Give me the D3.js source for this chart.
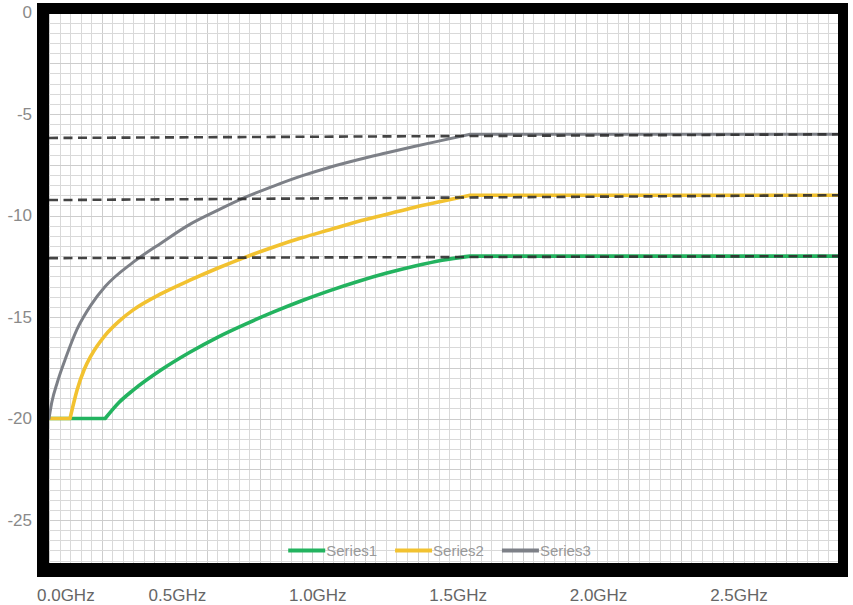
<!DOCTYPE html>
<html>
<head>
<meta charset="utf-8">
<script src="https://cdn.jsdelivr.net/npm/d3@7"></script>
<style>
  html, body { margin: 0; padding: 0; background: #ffffff; }
  svg { display: block; }
  text { font-family: "Liberation Sans", Arial, sans-serif; }
</style>
</head>
<body>
<svg id="chart" width="853" height="605"></svg>
<script>
// ---------- DATA ----------
const seriesNames = ["Series1", "Series2", "Series3"];
const seriesColors = ["#23b35f", "#f2c230", "#7d8087"];

// [GHz, dB]
const series1 = [[0,-20],[0.2,-20],[0.25,-19.2],[0.3,-18.6],[0.4,-17.6],[0.5,-16.75],[0.6,-16.0],[0.7,-15.35],[0.8,-14.75],[0.9,-14.2],[1.0,-13.7],[1.1,-13.25],[1.2,-12.85],[1.3,-12.5],[1.4,-12.2],[1.5,-12],[2.81,-12]];
const series2 = [[0,-20],[0.075,-20],[0.1,-18.6],[0.125,-17.6],[0.15,-16.9],[0.2,-15.9],[0.25,-15.2],[0.3,-14.65],[0.4,-13.85],[0.5,-13.2],[0.6,-12.6],[0.7,-12.05],[0.8,-11.55],[0.9,-11.1],[1.0,-10.7],[1.1,-10.3],[1.2,-9.95],[1.3,-9.6],[1.4,-9.3],[1.5,-9],[2.81,-9]];
const series3 = [[0,-20],[0.01,-19.2],[0.03,-18.2],[0.06,-17.0],[0.1,-15.6],[0.15,-14.4],[0.2,-13.5],[0.3,-12.3],[0.4,-11.35],[0.5,-10.45],[0.6,-9.75],[0.7,-9.1],[0.8,-8.55],[0.9,-8.05],[1.0,-7.62],[1.1,-7.25],[1.2,-6.92],[1.3,-6.6],[1.4,-6.3],[1.5,-6],[2.81,-6]];

// dashed reference lines: value at left edge, value at right edge
const dashLeft  = [-12.1, -9.24, -6.18];
const dashRight = [-12.0, -9.0, -6.0];

const xTicks = [0, 0.5, 1.0, 1.5, 2.0, 2.5];
const xTickLabels = ["0.0GHz", "0.5GHz", "1.0GHz", "1.5GHz", "2.0GHz", "2.5GHz"];
const yTicks = [0, -5, -10, -15, -20, -25];
const yTickLabels = ["0", "-5", "-10", "-15", "-20", "-25"];

// ---------- LAYOUT ----------
const plot = { left: 49, top: 14, right: 838, bottom: 563 };
const svg = d3.select("#chart");

const x = d3.scaleLinear().domain([0, 2.81]).range([plot.left, plot.right]);
const y = d3.scaleLinear().domain([0, -27]).range([12.5, 560.6]);

// frame
svg.append("rect").attr("x", 37).attr("y", 3).attr("width", 811).attr("height", 574).attr("fill", "#000");
svg.append("rect").attr("x", plot.left).attr("y", plot.top)
   .attr("width", plot.right - plot.left).attr("height", plot.bottom - plot.top).attr("fill", "#fff");

svg.append("clipPath").attr("id", "pc").append("rect")
  .attr("x", plot.left).attr("y", plot.top)
  .attr("width", plot.right - plot.left).attr("height", plot.bottom - plot.top);

const g = svg.append("g").attr("clip-path", "url(#pc)");

// grid
const xGrid = d3.range(0, 2.81 + 1e-9, 0.0375);
const yGrid = d3.range(0, -27.5, -0.5);
g.selectAll("line.vg").data(xGrid).join("line").attr("class", "vg")
  .attr("x1", d => Math.round(x(d)) + 0.5).attr("x2", d => Math.round(x(d)) + 0.5)
  .attr("y1", plot.top).attr("y2", plot.bottom)
  .attr("stroke", (d, i) => i % 5 === 0 ? "#cdcdcd" : "#d9d9d9").attr("stroke-width", 1);
g.selectAll("line.hg").data(yGrid).join("line").attr("class", "hg")
  .attr("y1", d => Math.round(y(d)) + 0.5).attr("y2", d => Math.round(y(d)) + 0.5)
  .attr("x1", plot.left).attr("x2", plot.right)
  .attr("stroke", (d, i) => i % 5 === 0 ? "#cdcdcd" : "#d9d9d9").attr("stroke-width", 1);

// series paths: flat runs linear, rising runs smooth
function seriesPath(pts) {
  const smooth = d3.line().x(d => x(d[0])).y(d => y(d[1])).curve(d3.curveMonotoneX);
  const parts = [];
  let cur = [pts[0]];
  const flat = (a, b) => a[1] === b[1];
  for (let k = 1; k < pts.length; k++) {
    if (k >= 2 && flat(pts[k-1], pts[k]) !== flat(pts[k-2], pts[k-1])) {
      parts.push(cur);
      cur = [pts[k-1]];
    }
    cur.push(pts[k]);
  }
  parts.push(cur);
  let dstr = "";
  parts.forEach((p, idx) => {
    let s = smooth(p);
    if (idx > 0) s = s.replace(/^M[^LC]*/, "");
    dstr += s;
  });
  return dstr;
}

const allSeries = [series1, series2, series3];
const widths = [3.6, 3.6, 3.0];
allSeries.forEach((s, i) => {
  g.append("path").attr("d", seriesPath(s)).attr("fill", "none")
    .attr("stroke", seriesColors[i]).attr("stroke-width", widths[i])
    .attr("stroke-linejoin", "round").attr("stroke-linecap", "round");
});

// dashed reference lines
g.selectAll("line.dash").data(dashLeft).join("line").attr("class", "dash")
  .attr("x1", x(0)).attr("x2", x(2.81))
  .attr("y1", d => y(d)).attr("y2", (d, i) => y(dashRight[i]))
  .attr("stroke", "#303030").attr("stroke-width", 2.6)
  .attr("stroke-dasharray", "9,5.5").attr("opacity", 0.9);

// y axis labels
svg.selectAll("text.yl").data(yTicks).join("text").attr("class", "yl")
  .attr("x", 32).attr("y", d => y(d)).attr("dy", "0.35em")
  .attr("text-anchor", "end").attr("font-size", 17).attr("fill", "#8a8a8a")
  .text((d, i) => yTickLabels[i]);

// x axis labels
const xl = svg.selectAll("text.xl").data(xTicks).join("text").attr("class", "xl")
  .attr("x", d => x(d) - 12).attr("y", 601)
  .attr("text-anchor", "middle").attr("font-size", 17).attr("fill", "#666")
  .text((d, i) => xTickLabels[i]);
xl.each(function() {
  const bb = this.getBBox();
  if (bb.x < 37) d3.select(this).attr("x", +d3.select(this).attr("x") + (37 - bb.x));
});

// legend
const legY = 550.5;
const legend = svg.append("g");
const items = seriesNames.map((n, i) => {
  const it = legend.append("g");
  it.append("line").attr("x1", 0).attr("x2", 37).attr("y1", 0).attr("y2", 0)
    .attr("stroke", seriesColors[i]).attr("stroke-width", 4);
  const t = it.append("text").attr("x", 38).attr("y", 0).attr("dy", "0.35em")
    .attr("font-size", 15).attr("fill", "#999").text(n);
  return { it, w: 38 + t.node().getComputedTextLength() };
});
const gap = 18;
const total = d3.sum(items, d => d.w) + gap * (items.length - 1);
let lx = (plot.left + plot.right) / 2 - 4 - total / 2;
items.forEach(d => { d.it.attr("transform", `translate(${lx},${legY})`); lx += d.w + gap; });
</script>
</body>
</html>
